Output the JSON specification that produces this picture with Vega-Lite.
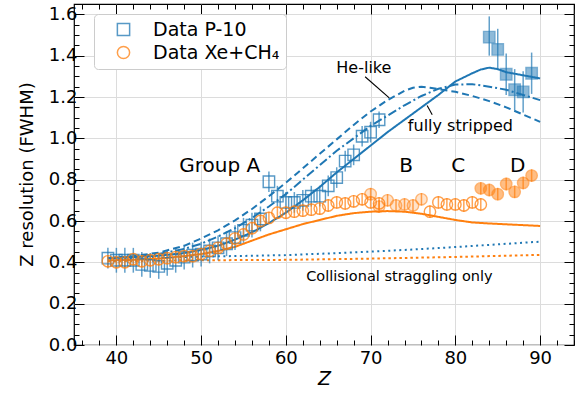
{
  "$schema": "https://vega.github.io/schema/vega-lite/v6.json",
  "width": 500,
  "height": 341,
  "autosize": {"type": "none"},
  "padding": {"left": 74, "top": 4, "right": 2, "bottom": 51},
  "background": "white",
  "config": {
    "font": "DejaVu Sans",
    "view": {"stroke": "black", "strokeWidth": 1.2},
    "axis": {"domain": false, "tickColor": "black", "tickWidth": 1, "labelColor": "black", "titleColor": "black", "titleFontWeight": "normal"}
  },
  "datasets": {
    "curves": [
      {"c": "bs", "Z": 39, "v": 0.42}, {"c": "bs", "Z": 42, "v": 0.425}, {"c": "bs", "Z": 45, "v": 0.432}, {"c": "bs", "Z": 48, "v": 0.445}, {"c": "bs", "Z": 50, "v": 0.46}, {"c": "bs", "Z": 52, "v": 0.48}, {"c": "bs", "Z": 54, "v": 0.51}, {"c": "bs", "Z": 56, "v": 0.545}, {"c": "bs", "Z": 58, "v": 0.59}, {"c": "bs", "Z": 60, "v": 0.64}, {"c": "bs", "Z": 62, "v": 0.7}, {"c": "bs", "Z": 64, "v": 0.765}, {"c": "bs", "Z": 66, "v": 0.835}, {"c": "bs", "Z": 68, "v": 0.9}, {"c": "bs", "Z": 70, "v": 0.965}, {"c": "bs", "Z": 72, "v": 1.03}, {"c": "bs", "Z": 74, "v": 1.09}, {"c": "bs", "Z": 76, "v": 1.15}, {"c": "bs", "Z": 78, "v": 1.21}, {"c": "bs", "Z": 80, "v": 1.275}, {"c": "bs", "Z": 82, "v": 1.315}, {"c": "bs", "Z": 83, "v": 1.333}, {"c": "bs", "Z": 84, "v": 1.342}, {"c": "bs", "Z": 85, "v": 1.335}, {"c": "bs", "Z": 86, "v": 1.32}, {"c": "bs", "Z": 88, "v": 1.305}, {"c": "bs", "Z": 90, "v": 1.29},
      {"c": "bd", "Z": 39, "v": 0.42}, {"c": "bd", "Z": 42, "v": 0.43}, {"c": "bd", "Z": 45, "v": 0.447}, {"c": "bd", "Z": 48, "v": 0.48}, {"c": "bd", "Z": 50, "v": 0.515}, {"c": "bd", "Z": 52, "v": 0.555}, {"c": "bd", "Z": 54, "v": 0.603}, {"c": "bd", "Z": 56, "v": 0.658}, {"c": "bd", "Z": 58, "v": 0.72}, {"c": "bd", "Z": 60, "v": 0.785}, {"c": "bd", "Z": 62, "v": 0.855}, {"c": "bd", "Z": 64, "v": 0.925}, {"c": "bd", "Z": 66, "v": 0.995}, {"c": "bd", "Z": 68, "v": 1.065}, {"c": "bd", "Z": 70, "v": 1.13}, {"c": "bd", "Z": 72, "v": 1.185}, {"c": "bd", "Z": 74, "v": 1.23}, {"c": "bd", "Z": 75, "v": 1.245}, {"c": "bd", "Z": 76, "v": 1.25}, {"c": "bd", "Z": 77, "v": 1.245}, {"c": "bd", "Z": 78, "v": 1.238}, {"c": "bd", "Z": 80, "v": 1.225}, {"c": "bd", "Z": 82, "v": 1.205}, {"c": "bd", "Z": 84, "v": 1.18}, {"c": "bd", "Z": 86, "v": 1.15}, {"c": "bd", "Z": 88, "v": 1.115}, {"c": "bd", "Z": 90, "v": 1.08},
      {"c": "bdd", "Z": 39, "v": 0.42}, {"c": "bdd", "Z": 42, "v": 0.428}, {"c": "bdd", "Z": 45, "v": 0.44}, {"c": "bdd", "Z": 48, "v": 0.465}, {"c": "bdd", "Z": 50, "v": 0.49}, {"c": "bdd", "Z": 52, "v": 0.525}, {"c": "bdd", "Z": 54, "v": 0.565}, {"c": "bdd", "Z": 56, "v": 0.615}, {"c": "bdd", "Z": 58, "v": 0.67}, {"c": "bdd", "Z": 60, "v": 0.73}, {"c": "bdd", "Z": 62, "v": 0.8}, {"c": "bdd", "Z": 64, "v": 0.87}, {"c": "bdd", "Z": 66, "v": 0.94}, {"c": "bdd", "Z": 68, "v": 1.0}, {"c": "bdd", "Z": 70, "v": 1.06}, {"c": "bdd", "Z": 72, "v": 1.11}, {"c": "bdd", "Z": 74, "v": 1.16}, {"c": "bdd", "Z": 76, "v": 1.205}, {"c": "bdd", "Z": 78, "v": 1.24}, {"c": "bdd", "Z": 80, "v": 1.26}, {"c": "bdd", "Z": 82, "v": 1.262}, {"c": "bdd", "Z": 84, "v": 1.25}, {"c": "bdd", "Z": 86, "v": 1.235}, {"c": "bdd", "Z": 88, "v": 1.21}, {"c": "bdd", "Z": 90, "v": 1.185},
      {"c": "bdot", "Z": 39, "v": 0.42}, {"c": "bdot", "Z": 45, "v": 0.423}, {"c": "bdot", "Z": 50, "v": 0.428}, {"c": "bdot", "Z": 55, "v": 0.431}, {"c": "bdot", "Z": 60, "v": 0.435}, {"c": "bdot", "Z": 65, "v": 0.443}, {"c": "bdot", "Z": 70, "v": 0.452}, {"c": "bdot", "Z": 75, "v": 0.462}, {"c": "bdot", "Z": 80, "v": 0.474}, {"c": "bdot", "Z": 85, "v": 0.487}, {"c": "bdot", "Z": 90, "v": 0.5},
      {"c": "os", "Z": 39, "v": 0.41}, {"c": "os", "Z": 42, "v": 0.412}, {"c": "os", "Z": 45, "v": 0.418}, {"c": "os", "Z": 48, "v": 0.43}, {"c": "os", "Z": 50, "v": 0.44}, {"c": "os", "Z": 52, "v": 0.455}, {"c": "os", "Z": 54, "v": 0.475}, {"c": "os", "Z": 56, "v": 0.505}, {"c": "os", "Z": 58, "v": 0.535}, {"c": "os", "Z": 60, "v": 0.56}, {"c": "os", "Z": 62, "v": 0.585}, {"c": "os", "Z": 64, "v": 0.605}, {"c": "os", "Z": 66, "v": 0.625}, {"c": "os", "Z": 68, "v": 0.638}, {"c": "os", "Z": 70, "v": 0.645}, {"c": "os", "Z": 72, "v": 0.648}, {"c": "os", "Z": 74, "v": 0.645}, {"c": "os", "Z": 76, "v": 0.635}, {"c": "os", "Z": 78, "v": 0.62}, {"c": "os", "Z": 80, "v": 0.605}, {"c": "os", "Z": 82, "v": 0.593}, {"c": "os", "Z": 84, "v": 0.588}, {"c": "os", "Z": 86, "v": 0.584}, {"c": "os", "Z": 88, "v": 0.58}, {"c": "os", "Z": 90, "v": 0.576},
      {"c": "odot", "Z": 39, "v": 0.405}, {"c": "odot", "Z": 50, "v": 0.41}, {"c": "odot", "Z": 60, "v": 0.412}, {"c": "odot", "Z": 70, "v": 0.418}, {"c": "odot", "Z": 80, "v": 0.426}, {"c": "odot", "Z": 90, "v": 0.436}
    ],
    "pts": [
      {"s": "Data P-10", "st": "open", "Z": 39, "v": 0.42, "lo": 0.37, "hi": 0.47},
      {"s": "Data P-10", "st": "open", "Z": 40, "v": 0.41, "lo": 0.35, "hi": 0.47},
      {"s": "Data P-10", "st": "open", "Z": 41, "v": 0.41, "lo": 0.35, "hi": 0.47},
      {"s": "Data P-10", "st": "open", "Z": 42, "v": 0.41, "lo": 0.35, "hi": 0.47},
      {"s": "Data P-10", "st": "open", "Z": 43, "v": 0.39, "lo": 0.33, "hi": 0.45},
      {"s": "Data P-10", "st": "open", "Z": 44, "v": 0.385, "lo": 0.325, "hi": 0.445},
      {"s": "Data P-10", "st": "open", "Z": 45, "v": 0.38, "lo": 0.32, "hi": 0.44},
      {"s": "Data P-10", "st": "open", "Z": 46, "v": 0.395, "lo": 0.335, "hi": 0.455},
      {"s": "Data P-10", "st": "open", "Z": 47, "v": 0.41, "lo": 0.35, "hi": 0.47},
      {"s": "Data P-10", "st": "open", "Z": 48, "v": 0.425, "lo": 0.365, "hi": 0.485},
      {"s": "Data P-10", "st": "open", "Z": 49, "v": 0.435, "lo": 0.375, "hi": 0.495},
      {"s": "Data P-10", "st": "open", "Z": 50, "v": 0.44, "lo": 0.38, "hi": 0.5},
      {"s": "Data P-10", "st": "open", "Z": 51, "v": 0.455, "lo": 0.395, "hi": 0.515},
      {"s": "Data P-10", "st": "open", "Z": 52, "v": 0.47, "lo": 0.41, "hi": 0.53},
      {"s": "Data P-10", "st": "open", "Z": 53, "v": 0.49, "lo": 0.43, "hi": 0.55},
      {"s": "Data P-10", "st": "open", "Z": 54, "v": 0.52, "lo": 0.46, "hi": 0.58},
      {"s": "Data P-10", "st": "open", "Z": 55, "v": 0.555, "lo": 0.495, "hi": 0.615},
      {"s": "Data P-10", "st": "open", "Z": 56, "v": 0.58, "lo": 0.52, "hi": 0.64},
      {"s": "Data P-10", "st": "open", "Z": 57, "v": 0.61, "lo": 0.55, "hi": 0.67},
      {"s": "Data P-10", "st": "open", "Z": 58, "v": 0.79, "lo": 0.74, "hi": 0.84},
      {"s": "Data P-10", "st": "open", "Z": 59, "v": 0.72, "lo": 0.67, "hi": 0.77},
      {"s": "Data P-10", "st": "open", "Z": 60, "v": 0.69, "lo": 0.64, "hi": 0.74},
      {"s": "Data P-10", "st": "open", "Z": 61, "v": 0.69, "lo": 0.64, "hi": 0.74},
      {"s": "Data P-10", "st": "open", "Z": 62, "v": 0.7, "lo": 0.65, "hi": 0.75},
      {"s": "Data P-10", "st": "open", "Z": 63, "v": 0.72, "lo": 0.67, "hi": 0.77},
      {"s": "Data P-10", "st": "open", "Z": 64, "v": 0.72, "lo": 0.67, "hi": 0.77},
      {"s": "Data P-10", "st": "open", "Z": 65, "v": 0.77, "lo": 0.72, "hi": 0.82},
      {"s": "Data P-10", "st": "open", "Z": 66, "v": 0.81, "lo": 0.76, "hi": 0.86},
      {"s": "Data P-10", "st": "open", "Z": 67, "v": 0.89, "lo": 0.84, "hi": 0.94},
      {"s": "Data P-10", "st": "open", "Z": 68, "v": 0.92, "lo": 0.87, "hi": 0.97},
      {"s": "Data P-10", "st": "open", "Z": 69, "v": 1.01, "lo": 0.96, "hi": 1.06},
      {"s": "Data P-10", "st": "open", "Z": 70, "v": 1.03, "lo": 0.98, "hi": 1.08},
      {"s": "Data P-10", "st": "open", "Z": 71, "v": 1.09, "lo": 1.05, "hi": 1.13},
      {"s": "Data P-10", "st": "filled", "Z": 84, "v": 1.49, "lo": 1.4, "hi": 1.59},
      {"s": "Data P-10", "st": "filled", "Z": 85, "v": 1.43, "lo": 1.33, "hi": 1.53},
      {"s": "Data P-10", "st": "filled", "Z": 86, "v": 1.31, "lo": 1.21, "hi": 1.41},
      {"s": "Data P-10", "st": "filled", "Z": 87, "v": 1.235, "lo": 1.135, "hi": 1.335},
      {"s": "Data P-10", "st": "filled", "Z": 88, "v": 1.225, "lo": 1.125, "hi": 1.325},
      {"s": "Data P-10", "st": "filled", "Z": 89, "v": 1.315, "lo": 1.215, "hi": 1.415},
      {"s": "Data Xe+CH₄", "st": "open", "Z": 39, "v": 0.405, "lo": 0.375, "hi": 0.435},
      {"s": "Data Xe+CH₄", "st": "open", "Z": 40, "v": 0.4, "lo": 0.37, "hi": 0.43},
      {"s": "Data Xe+CH₄", "st": "open", "Z": 41, "v": 0.4, "lo": 0.37, "hi": 0.43},
      {"s": "Data Xe+CH₄", "st": "open", "Z": 42, "v": 0.415, "lo": 0.385, "hi": 0.445},
      {"s": "Data Xe+CH₄", "st": "open", "Z": 43, "v": 0.405, "lo": 0.375, "hi": 0.435},
      {"s": "Data Xe+CH₄", "st": "open", "Z": 44, "v": 0.41, "lo": 0.38, "hi": 0.44},
      {"s": "Data Xe+CH₄", "st": "open", "Z": 45, "v": 0.415, "lo": 0.385, "hi": 0.445},
      {"s": "Data Xe+CH₄", "st": "open", "Z": 46, "v": 0.42, "lo": 0.39, "hi": 0.45},
      {"s": "Data Xe+CH₄", "st": "open", "Z": 47, "v": 0.425, "lo": 0.395, "hi": 0.455},
      {"s": "Data Xe+CH₄", "st": "open", "Z": 48, "v": 0.43, "lo": 0.4, "hi": 0.46},
      {"s": "Data Xe+CH₄", "st": "open", "Z": 49, "v": 0.43, "lo": 0.4, "hi": 0.46},
      {"s": "Data Xe+CH₄", "st": "open", "Z": 50, "v": 0.44, "lo": 0.41, "hi": 0.47},
      {"s": "Data Xe+CH₄", "st": "open", "Z": 51, "v": 0.455, "lo": 0.425, "hi": 0.485},
      {"s": "Data Xe+CH₄", "st": "open", "Z": 52, "v": 0.47, "lo": 0.44, "hi": 0.5},
      {"s": "Data Xe+CH₄", "st": "open", "Z": 53, "v": 0.49, "lo": 0.46, "hi": 0.52},
      {"s": "Data Xe+CH₄", "st": "open", "Z": 54, "v": 0.515, "lo": 0.485, "hi": 0.545},
      {"s": "Data Xe+CH₄", "st": "open", "Z": 55, "v": 0.535, "lo": 0.505, "hi": 0.565},
      {"s": "Data Xe+CH₄", "st": "open", "Z": 56, "v": 0.565, "lo": 0.535, "hi": 0.595},
      {"s": "Data Xe+CH₄", "st": "open", "Z": 57, "v": 0.6, "lo": 0.57, "hi": 0.63},
      {"s": "Data Xe+CH₄", "st": "open", "Z": 58, "v": 0.615, "lo": 0.585, "hi": 0.645},
      {"s": "Data Xe+CH₄", "st": "open", "Z": 59, "v": 0.64, "lo": 0.61, "hi": 0.67},
      {"s": "Data Xe+CH₄", "st": "open", "Z": 60, "v": 0.64, "lo": 0.61, "hi": 0.67},
      {"s": "Data Xe+CH₄", "st": "open", "Z": 61, "v": 0.645, "lo": 0.615, "hi": 0.675},
      {"s": "Data Xe+CH₄", "st": "open", "Z": 62, "v": 0.65, "lo": 0.62, "hi": 0.68},
      {"s": "Data Xe+CH₄", "st": "open", "Z": 63, "v": 0.655, "lo": 0.625, "hi": 0.685},
      {"s": "Data Xe+CH₄", "st": "open", "Z": 64, "v": 0.66, "lo": 0.63, "hi": 0.69},
      {"s": "Data Xe+CH₄", "st": "open", "Z": 65, "v": 0.675, "lo": 0.645, "hi": 0.705},
      {"s": "Data Xe+CH₄", "st": "open", "Z": 66, "v": 0.69, "lo": 0.66, "hi": 0.72},
      {"s": "Data Xe+CH₄", "st": "open", "Z": 67, "v": 0.685, "lo": 0.655, "hi": 0.715},
      {"s": "Data Xe+CH₄", "st": "open", "Z": 68, "v": 0.695, "lo": 0.665, "hi": 0.725},
      {"s": "Data Xe+CH₄", "st": "open", "Z": 69, "v": 0.705, "lo": 0.675, "hi": 0.735},
      {"s": "Data Xe+CH₄", "st": "open", "Z": 70, "v": 0.69, "lo": 0.66, "hi": 0.72},
      {"s": "Data Xe+CH₄", "st": "semi", "Z": 70, "v": 0.73, "lo": 0.7, "hi": 0.76},
      {"s": "Data Xe+CH₄", "st": "semi", "Z": 71, "v": 0.67, "lo": 0.64, "hi": 0.7},
      {"s": "Data Xe+CH₄", "st": "semi", "Z": 72, "v": 0.7, "lo": 0.67, "hi": 0.73},
      {"s": "Data Xe+CH₄", "st": "semi", "Z": 73, "v": 0.675, "lo": 0.645, "hi": 0.705},
      {"s": "Data Xe+CH₄", "st": "semi", "Z": 74, "v": 0.68, "lo": 0.65, "hi": 0.71},
      {"s": "Data Xe+CH₄", "st": "semi", "Z": 75, "v": 0.675, "lo": 0.645, "hi": 0.705},
      {"s": "Data Xe+CH₄", "st": "semi", "Z": 76, "v": 0.705, "lo": 0.675, "hi": 0.735},
      {"s": "Data Xe+CH₄", "st": "open", "Z": 71, "v": 0.685, "lo": 0.655, "hi": 0.715},
      {"s": "Data Xe+CH₄", "st": "open", "Z": 77, "v": 0.645, "lo": 0.615, "hi": 0.675},
      {"s": "Data Xe+CH₄", "st": "open", "Z": 78, "v": 0.69, "lo": 0.66, "hi": 0.72},
      {"s": "Data Xe+CH₄", "st": "open", "Z": 79, "v": 0.68, "lo": 0.65, "hi": 0.71},
      {"s": "Data Xe+CH₄", "st": "open", "Z": 80, "v": 0.68, "lo": 0.65, "hi": 0.71},
      {"s": "Data Xe+CH₄", "st": "open", "Z": 81, "v": 0.675, "lo": 0.645, "hi": 0.705},
      {"s": "Data Xe+CH₄", "st": "open", "Z": 82, "v": 0.69, "lo": 0.66, "hi": 0.72},
      {"s": "Data Xe+CH₄", "st": "open", "Z": 83, "v": 0.68, "lo": 0.65, "hi": 0.71},
      {"s": "Data Xe+CH₄", "st": "filled", "Z": 83, "v": 0.758, "lo": 0.728, "hi": 0.788},
      {"s": "Data Xe+CH₄", "st": "filled", "Z": 84, "v": 0.75, "lo": 0.72, "hi": 0.78},
      {"s": "Data Xe+CH₄", "st": "filled", "Z": 85, "v": 0.73, "lo": 0.7, "hi": 0.76},
      {"s": "Data Xe+CH₄", "st": "filled", "Z": 86, "v": 0.779, "lo": 0.749, "hi": 0.809},
      {"s": "Data Xe+CH₄", "st": "filled", "Z": 87, "v": 0.741, "lo": 0.711, "hi": 0.771},
      {"s": "Data Xe+CH₄", "st": "filled", "Z": 88, "v": 0.784, "lo": 0.754, "hi": 0.814},
      {"s": "Data Xe+CH₄", "st": "filled", "Z": 89, "v": 0.82, "lo": 0.79, "hi": 0.85}
    ],
    "notes": [
      {"k": "big", "t": "Group A", "Z": 52.2, "v": 0.868},
      {"k": "big", "t": "B", "Z": 74.2, "v": 0.868},
      {"k": "big", "t": "C", "Z": 80.35, "v": 0.868},
      {"k": "big", "t": "D", "Z": 87.35, "v": 0.868},
      {"k": "mid", "t": "He-like", "Z": 69.2, "v": 1.339},
      {"k": "mid", "t": "fully stripped", "Z": 80.6, "v": 1.06},
      {"k": "small", "t": "Collisional straggling only", "Z": 73.4, "v": 0.33}
    ],
    "ptr": [
      {"Z": 69.35, "v": 1.298, "Z2": 72.2, "v2": 1.196},
      {"Z": 76.67, "v": 1.159, "Z2": 77.27, "v2": 1.114}
    ]
  },
  "layer": [
    {
      "data": {"name": "curves"},
      "mark": {"type": "line"},
      "encoding": {
        "x": {"field": "Z", "type": "quantitative", "scale": {"domain": [35, 94], "nice": false, "zero": false},
          "axis": {"orient": "bottom", "title": "Z", "titleFontStyle": "italic", "titleFontSize": 19, "titlePadding": 2,
            "values": [36,38,40,42,44,46,48,50,52,54,56,58,60,62,64,66,68,70,72,74,76,78,80,82,84,86,88,90,92,94],
            "labelExpr": "datum.value % 10 === 0 ? datum.label : ''", "labelFontSize": 18, "labelPadding": 14, "labelFlush": false,
            "tickSize": {"condition": {"test": "datum.value % 10 === 0", "value": -10}, "value": -5},
            "grid": true, "gridColor": "#dcdcdc", "gridWidth": 1,
            "gridOpacity": {"condition": {"test": "datum.value % 10 === 0", "value": 1}, "value": 0}}},
        "y": {"field": "v", "type": "quantitative", "scale": {"domain": [0, 1.65], "nice": false, "zero": false},
          "axis": {"orient": "left", "title": "Z resolution (FWHM)", "titleFontSize": 18, "titleX": -47, "titleY": 170, "titleAngle": -90, "titleAlign": "center", "titleBaseline": "middle",
            "values": [0,0.05,0.1,0.15,0.2,0.25,0.3,0.35,0.4,0.45,0.5,0.55,0.6,0.65,0.7,0.75,0.8,0.85,0.9,0.95,1.0,1.05,1.1,1.15,1.2,1.25,1.3,1.35,1.4,1.45,1.5,1.55,1.6,1.65],
            "labelExpr": "round(datum.value*100) % 20 === 0 ? format(datum.value, '.1f') : ''", "labelFontSize": 18, "labelPadding": 7, "labelFlush": false,
            "tickSize": {"condition": {"test": "round(datum.value*100) % 20 === 0", "value": -10}, "value": -5},
            "grid": true, "gridColor": "#dcdcdc", "gridWidth": 1,
            "gridOpacity": {"condition": {"test": "round(datum.value*100) % 20 === 0", "value": 1}, "value": 0}}},
        "color": {"field": "c", "type": "nominal", "scale": {"domain": ["bs","bd","bdd","bdot","os","odot"], "range": ["#1f77b4","#1f77b4","#1f77b4","#1f77b4","#ff7f0e","#ff7f0e"]}, "legend": null},
        "strokeDash": {"field": "c", "type": "nominal", "scale": {"domain": ["bs","bd","bdd","bdot","os","odot"], "range": [[1,0],[7,4],[9,3,2,3],[2,3.5],[1,0],[2.5,3]]}, "legend": null},
        "strokeWidth": {"field": "c", "type": "nominal", "scale": {"domain": ["bs","bd","bdd","bdot","os","odot"], "range": [2,2,2,2.3,3,2.5]}, "legend": null}
      }
    },
    {
      "data": {"name": "pts"},
      "mark": {"type": "rule", "strokeWidth": 1.5, "opacity": 0.7},
      "encoding": {
        "x": {"field": "Z", "type": "quantitative",
          "axis": {"orient": "top", "title": null, "labels": false, "grid": false,
            "values": [36,38,40,42,44,46,48,50,52,54,56,58,60,62,64,66,68,70,72,74,76,78,80,82,84,86,88,90,92,94],
            "tickSize": {"condition": {"test": "datum.value % 10 === 0", "value": -10}, "value": -5}}},
        "y": {"field": "lo", "type": "quantitative",
          "axis": {"orient": "right", "title": null, "labels": false, "grid": false,
            "values": [0,0.05,0.1,0.15,0.2,0.25,0.3,0.35,0.4,0.45,0.5,0.55,0.6,0.65,0.7,0.75,0.8,0.85,0.9,0.95,1.0,1.05,1.1,1.15,1.2,1.25,1.3,1.35,1.4,1.45,1.5,1.55,1.6,1.65],
            "tickSize": {"condition": {"test": "round(datum.value*100) % 20 === 0", "value": -10}, "value": -5}}},
        "y2": {"field": "hi"},
        "color": {"field": "s", "type": "nominal", "scale": {"domain": ["Data P-10", "Data Xe+CH₄"], "range": ["#1f77b4", "#ff7f0e"]}, "legend": null}
      }
    },
    {
      "data": {"name": "pts"},
      "transform": [{"filter": "datum.st === 'open'"}],
      "mark": {"type": "point", "filled": false, "size": 130, "strokeWidth": 1.4, "opacity": 0.75},
      "encoding": {
        "x": {"field": "Z", "type": "quantitative", "axis": null},
        "y": {"field": "v", "type": "quantitative", "axis": null},
        "color": {"field": "s", "type": "nominal", "scale": {"domain": ["Data P-10", "Data Xe+CH₄"], "range": ["#1f77b4", "#ff7f0e"]},
          "legend": {"orient": "none", "legendX": 20, "legendY": 10, "title": null, "labelFontSize": 19, "labelColor": "black", "symbolSize": 150, "symbolStrokeWidth": 1.5, "padding": 6, "strokeColor": "#cccccc", "fillColor": "white", "cornerRadius": 4, "rowPadding": 3, "labelOffset": 20, "symbolOffset": 14}},
        "shape": {"field": "s", "type": "nominal", "scale": {"domain": ["Data P-10", "Data Xe+CH₄"], "range": ["square", "circle"]},
          "legend": {"orient": "none", "legendX": 20, "legendY": 10, "title": null}}
      }
    },
    {
      "data": {"name": "pts"},
      "transform": [{"filter": "datum.st !== 'open'"}],
      "mark": {"type": "point", "filled": true, "size": 130, "strokeWidth": 1.4, "strokeOpacity": 0.8},
      "encoding": {
        "x": {"field": "Z", "type": "quantitative", "axis": null},
        "y": {"field": "v", "type": "quantitative", "axis": null},
        "color": {"field": "s", "type": "nominal", "scale": {"domain": ["Data P-10", "Data Xe+CH₄"], "range": ["#1f77b4", "#ff7f0e"]}, "legend": null},
        "stroke": {"field": "s", "type": "nominal", "scale": {"domain": ["Data P-10", "Data Xe+CH₄"], "range": ["#1f77b4", "#ff7f0e"]}, "legend": null},
        "shape": {"field": "s", "type": "nominal", "scale": {"domain": ["Data P-10", "Data Xe+CH₄"], "range": ["square", "circle"]}, "legend": null},
        "fillOpacity": {"field": "st", "type": "nominal", "scale": {"domain": ["semi", "filled"], "range": [0.3, 0.72]}, "legend": null}
      }
    },
    {
      "data": {"name": "notes"},
      "transform": [{"filter": "datum.k === 'big'"}],
      "mark": {"type": "text", "fontSize": 20, "color": "black", "align": "center", "baseline": "middle"},
      "encoding": {
        "x": {"field": "Z", "type": "quantitative", "axis": null},
        "y": {"field": "v", "type": "quantitative", "axis": null},
        "text": {"field": "t"}
      }
    },
    {
      "data": {"name": "notes"},
      "transform": [{"filter": "datum.k === 'mid'"}],
      "mark": {"type": "text", "fontSize": 16, "color": "black", "align": "center", "baseline": "middle"},
      "encoding": {
        "x": {"field": "Z", "type": "quantitative", "axis": null},
        "y": {"field": "v", "type": "quantitative", "axis": null},
        "text": {"field": "t"}
      }
    },
    {
      "data": {"name": "notes"},
      "transform": [{"filter": "datum.k === 'small'"}],
      "mark": {"type": "text", "fontSize": 14.5, "color": "black", "align": "center", "baseline": "middle"},
      "encoding": {
        "x": {"field": "Z", "type": "quantitative", "axis": null},
        "y": {"field": "v", "type": "quantitative", "axis": null},
        "text": {"field": "t"}
      }
    },
    {
      "data": {"name": "ptr"},
      "mark": {"type": "rule", "color": "black", "strokeWidth": 1.1},
      "encoding": {
        "x": {"field": "Z", "type": "quantitative", "axis": null},
        "x2": {"field": "Z2"},
        "y": {"field": "v", "type": "quantitative", "axis": null},
        "y2": {"field": "v2"}
      }
    }
  ],
  "resolve": {
    "axis": {"x": "independent", "y": "independent"},
    "scale": {"color": "independent", "shape": "independent", "stroke": "independent", "fillOpacity": "independent", "strokeDash": "independent", "strokeWidth": "independent"}
  }
}
